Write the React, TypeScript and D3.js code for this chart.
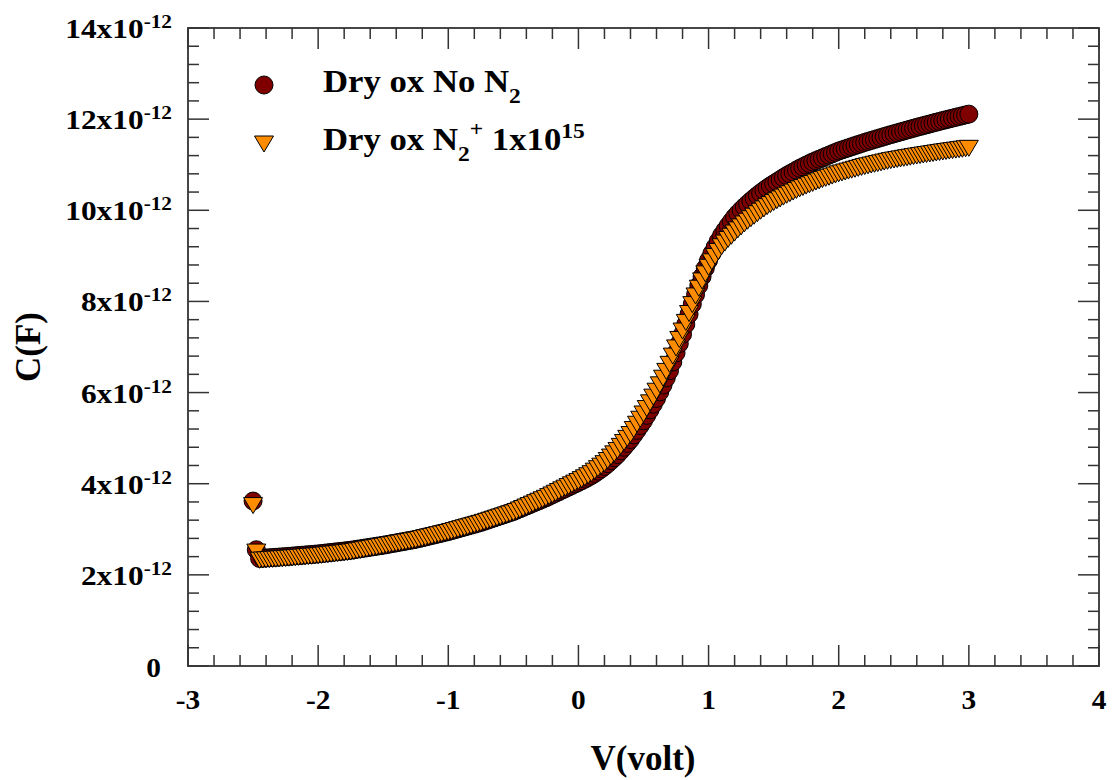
import React from 'react';
import * as d3 from 'd3';

// ---- data (C in units of 1e-12 F) ----
const V_VOLT = [
  -2.5, -2.475,
  -2.45, -2.425, -2.4, -2.375, -2.35, -2.325, -2.3, -2.275, -2.25,
  -2.225, -2.2, -2.175, -2.15, -2.125, -2.1, -2.075, -2.05, -2.025, -2,
  -1.975, -1.95, -1.925, -1.9, -1.875, -1.85, -1.825, -1.8, -1.775, -1.75,
  -1.725, -1.7, -1.675, -1.65, -1.625, -1.6, -1.575, -1.55, -1.525, -1.5,
  -1.475, -1.45, -1.425, -1.4, -1.375, -1.35, -1.325, -1.3, -1.275, -1.25,
  -1.225, -1.2, -1.175, -1.15, -1.125, -1.1, -1.075, -1.05, -1.025, -1,
  -0.975, -0.95, -0.925, -0.9, -0.875, -0.85, -0.825, -0.8, -0.775, -0.75,
  -0.725, -0.7, -0.675, -0.65, -0.625, -0.6, -0.575, -0.55, -0.525, -0.5,
  -0.475, -0.45, -0.425, -0.4, -0.375, -0.35, -0.325, -0.3, -0.275, -0.25,
  -0.225, -0.2, -0.175, -0.15, -0.125, -0.1, -0.075, -0.05, -0.025, 0,
  0.025, 0.05, 0.075, 0.1, 0.125, 0.15, 0.175, 0.2, 0.225, 0.25,
  0.275, 0.3, 0.325, 0.35, 0.375, 0.4, 0.425, 0.45, 0.475, 0.5,
  0.525, 0.55, 0.575, 0.6, 0.625, 0.65, 0.675, 0.7, 0.725, 0.75,
  0.775, 0.8, 0.825, 0.85, 0.875, 0.9, 0.925, 0.95, 0.975, 1,
  1.025, 1.05, 1.075, 1.1, 1.125, 1.15, 1.175, 1.2, 1.225, 1.25,
  1.275, 1.3, 1.325, 1.35, 1.375, 1.4, 1.425, 1.45, 1.475, 1.5,
  1.525, 1.55, 1.575, 1.6, 1.625, 1.65, 1.675, 1.7, 1.725, 1.75,
  1.775, 1.8, 1.825, 1.85, 1.875, 1.9, 1.925, 1.95, 1.975, 2,
  2.025, 2.05, 2.075, 2.1, 2.125, 2.15, 2.175, 2.2, 2.225, 2.25,
  2.275, 2.3, 2.325, 2.35, 2.375, 2.4, 2.425, 2.45, 2.475, 2.5,
  2.525, 2.55, 2.575, 2.6, 2.625, 2.65, 2.675, 2.7, 2.725, 2.75,
  2.775, 2.8, 2.825, 2.85, 2.875, 2.9, 2.925, 2.95, 2.975, 3,
];

const C_DRY_NO_N2 = [
  3.62, 2.55,
  2.36, 2.365, 2.37, 2.375, 2.38, 2.385, 2.39, 2.395, 2.4,
  2.406, 2.412, 2.418, 2.424, 2.43, 2.436, 2.442, 2.448, 2.454, 2.46,
  2.468, 2.476, 2.484, 2.492, 2.5, 2.508, 2.516, 2.524, 2.532, 2.54,
  2.551, 2.562, 2.573, 2.584, 2.595, 2.606, 2.617, 2.628, 2.639, 2.65,
  2.663, 2.676, 2.689, 2.702, 2.715, 2.728, 2.741, 2.754, 2.767, 2.78,
  2.797, 2.814, 2.831, 2.848, 2.865, 2.882, 2.899, 2.916, 2.933, 2.95,
  2.97, 2.99, 3.01, 3.03, 3.05, 3.07, 3.09, 3.11, 3.13, 3.15,
  3.174, 3.198, 3.222, 3.246, 3.27, 3.294, 3.318, 3.342, 3.366, 3.39,
  3.42, 3.45, 3.48, 3.51, 3.54, 3.57, 3.6, 3.63, 3.66, 3.69,
  3.724, 3.758, 3.792, 3.826, 3.86, 3.894, 3.928, 3.962, 3.996, 4.03,
  4.065, 4.1, 4.14, 4.18, 4.225, 4.275, 4.325, 4.38, 4.44, 4.505,
  4.57, 4.64, 4.72, 4.8, 4.885, 4.97, 5.07, 5.17, 5.275, 5.38,
  5.5, 5.62, 5.745, 5.87, 6.015, 6.165, 6.32, 6.48, 6.67, 6.87,
  7.075, 7.28, 7.5, 7.72, 7.94, 8.15, 8.35, 8.545, 8.73, 8.9,
  9.05, 9.19, 9.325, 9.45, 9.555, 9.66, 9.755, 9.85, 9.93, 10.005,
  10.075, 10.14, 10.205, 10.265, 10.325, 10.38, 10.435, 10.485, 10.535, 10.58,
  10.625, 10.67, 10.715, 10.76, 10.8, 10.84, 10.88, 10.92, 10.955, 10.99,
  11.025, 11.06, 11.09, 11.12, 11.15, 11.18, 11.21, 11.24, 11.27, 11.3,
  11.324, 11.348, 11.371, 11.395, 11.419, 11.443, 11.466, 11.49, 11.511, 11.533,
  11.554, 11.575, 11.596, 11.618, 11.639, 11.66, 11.68, 11.7, 11.72, 11.74,
  11.76, 11.78, 11.8, 11.82, 11.839, 11.858, 11.876, 11.895, 11.914, 11.933,
  11.951, 11.97, 11.988, 12.005, 12.023, 12.04, 12.058, 12.075, 12.093, 12.11,
];

const C_DRY_N2_1E15 = [
  3.52, 2.5,
  2.32, 2.325, 2.33, 2.335, 2.34, 2.345, 2.35, 2.355, 2.36,
  2.366, 2.372, 2.378, 2.384, 2.39, 2.396, 2.402, 2.408, 2.414, 2.42,
  2.428, 2.436, 2.444, 2.452, 2.46, 2.468, 2.476, 2.484, 2.492, 2.5,
  2.513, 2.526, 2.539, 2.552, 2.565, 2.578, 2.591, 2.604, 2.617, 2.63,
  2.643, 2.656, 2.669, 2.682, 2.695, 2.708, 2.721, 2.734, 2.747, 2.76,
  2.777, 2.794, 2.811, 2.828, 2.845, 2.862, 2.879, 2.896, 2.913, 2.93,
  2.95, 2.97, 2.99, 3.01, 3.03, 3.05, 3.07, 3.09, 3.11, 3.13,
  3.153, 3.176, 3.199, 3.222, 3.245, 3.268, 3.291, 3.314, 3.337, 3.36,
  3.392, 3.424, 3.456, 3.488, 3.52, 3.552, 3.584, 3.616, 3.648, 3.68,
  3.717, 3.754, 3.791, 3.828, 3.865, 3.902, 3.939, 3.976, 4.013, 4.05,
  4.09, 4.13, 4.175, 4.22, 4.275, 4.33, 4.385, 4.44, 4.51, 4.585,
  4.655, 4.73, 4.82, 4.905, 4.995, 5.08, 5.19, 5.305, 5.415, 5.53,
  5.65, 5.775, 5.9, 6.03, 6.17, 6.315, 6.465, 6.62, 6.8, 6.98,
  7.165, 7.35, 7.54, 7.735, 7.93, 8.12, 8.29, 8.45, 8.605, 8.75,
  8.87, 8.985, 9.095, 9.2, 9.28, 9.36, 9.43, 9.5, 9.57, 9.635,
  9.7, 9.76, 9.815, 9.87, 9.925, 9.98, 10.03, 10.08, 10.125, 10.17,
  10.21, 10.25, 10.29, 10.33, 10.365, 10.4, 10.435, 10.47, 10.5, 10.53,
  10.56, 10.59, 10.62, 10.645, 10.675, 10.7, 10.725, 10.75, 10.775, 10.8,
  10.82, 10.84, 10.86, 10.88, 10.9, 10.92, 10.94, 10.96, 10.976, 10.993,
  11.009, 11.025, 11.041, 11.058, 11.074, 11.09, 11.103, 11.115, 11.128, 11.14,
  11.153, 11.165, 11.178, 11.19, 11.201, 11.213, 11.224, 11.235, 11.246, 11.258,
  11.269, 11.28, 11.29, 11.3, 11.31, 11.32, 11.33, 11.34, 11.35, 11.36,
];

const X_TICKS = [-3, -2, -1, 0, 1, 2, 3, 4];
const Y_TICKS = [0, 2, 4, 6, 8, 10, 12, 14];
const X_TITLE = 'V(volt)';
const Y_TITLE = 'C(F)';

// ---- layout ----
const W = 1112;
const H = 780;
const L = 188, R = 1099, T = 28, B = 666;
const FONT = '"Liberation Serif", "Times New Roman", Times, serif';
const AXIS = '#333';
const MAJOR = 21;
const MINOR = 11;
const STRETCH = 1.12;

const x = d3.scaleLinear().domain([-3, 4]).range([L, R]);
const y = d3.scaleLinear().domain([0, 14]).range([B, T]);

const xMinor: number[] = [];
for (let i = 0; i < X_TICKS.length - 1; i++) {
  for (let k = 1; k < 5; k++) xMinor.push(X_TICKS[i] + (k * (X_TICKS[i + 1] - X_TICKS[i])) / 5);
}
const yMinor: number[] = [];
for (let i = 0; i < Y_TICKS.length - 1; i++) {
  for (let k = 1; k < 5; k++) yMinor.push(Y_TICKS[i] + (k * (Y_TICKS[i + 1] - Y_TICKS[i])) / 5);
}

const TRI = 'M-9.5,-8L9.5,-8L0,8Z';
const RED = '#7f0000';
const ORANGE = '#ff8c00';

export default function App() {
  const circles = V_VOLT.map((v, i) => ({ v, c: C_DRY_NO_N2[i] }));
  const tris = V_VOLT.map((v, i) => ({ v, c: C_DRY_N2_1E15[i] }));
  return (
    <svg
      width={W}
      height={H}
      style={{ position: 'absolute', left: 0, top: 0, background: '#fff' }}
      fontFamily={FONT}
      fontWeight="bold"
    >
      <rect x={0} y={0} width={W} height={H} fill="#fff" />
      {/* ticks */}
      <g stroke={AXIS} strokeWidth={1.5}>
        {X_TICKS.map((t) => (
          <g key={'xm' + t}>
            <line x1={x(t)} x2={x(t)} y1={B} y2={B - MAJOR} />
            <line x1={x(t)} x2={x(t)} y1={T} y2={T + MAJOR} />
          </g>
        ))}
        {xMinor.map((t, i) => (
          <g key={'xn' + i}>
            <line x1={x(t)} x2={x(t)} y1={B} y2={B - MINOR} />
            <line x1={x(t)} x2={x(t)} y1={T} y2={T + MINOR} />
          </g>
        ))}
        {Y_TICKS.map((t) => (
          <g key={'ym' + t}>
            <line x1={L} x2={L + MAJOR} y1={y(t)} y2={y(t)} />
            <line x1={R} x2={R - MAJOR} y1={y(t)} y2={y(t)} />
          </g>
        ))}
        {yMinor.map((t, i) => (
          <g key={'yn' + i}>
            <line x1={L} x2={L + MINOR} y1={y(t)} y2={y(t)} />
            <line x1={R} x2={R - MINOR} y1={y(t)} y2={y(t)} />
          </g>
        ))}
      </g>
      <rect x={L} y={T} width={R - L} height={B - T} fill="none" stroke={AXIS} strokeWidth={1.8} />

      {/* data */}
      <g stroke="#000" strokeWidth={1}>
        {circles.map((d, i) => (
          <circle key={'c' + i} cx={x(d.v)} cy={y(d.c)} r={9} fill={RED} />
        ))}
        {tris.map((d, i) => (
          <path key={'t' + i} d={TRI} transform={`translate(${x(d.v)},${y(d.c)})`} fill={ORANGE} />
        ))}
      </g>

      {/* x tick labels */}
      {X_TICKS.map((t) => (
        <text
          key={'xl' + t}
          transform={`translate(${x(t)},709) scale(1.05,1)`}
          textAnchor="middle"
          fontSize={28}
          fill="#000"
        >
          {t}
        </text>
      ))}
      {/* y tick labels */}
      {Y_TICKS.map((t) =>
        t === 0 ? (
          <text
            key={'yl' + t}
            transform={`translate(161,${y(t) + 10.5}) scale(1.05,1)`}
            textAnchor="end"
            fontSize={28}
            fill="#000"
          >
            0
          </text>
        ) : (
          <text
            key={'yl' + t}
            transform={`translate(172,${y(t) + 10}) scale(${STRETCH},1)`}
            textAnchor="end"
            fontSize={28}
            fill="#000"
          >
            {t}x10
            <tspan fontSize={19} dy={-10}>-12</tspan>
          </text>
        )
      )}

      {/* axis titles */}
      <text x={643} y={770} textAnchor="middle" fontSize={35} fill="#000">{X_TITLE}</text>
      <text transform={`translate(40,347) rotate(-90)`} textAnchor="middle" fontSize={35} fill="#000">{Y_TITLE}</text>

      {/* legend */}
      <g stroke="#000" strokeWidth={1}>
        <circle cx={264} cy={85} r={9} fill={RED} />
        <path d={TRI} transform="translate(264,144)" fill={ORANGE} />
      </g>
      <text transform={`translate(323,92) scale(${STRETCH},1)`} fontSize={31} fill="#000">
        Dry ox No N
        <tspan fontSize={21} dy={11}>2</tspan>
      </text>
      <text transform={`translate(323,150) scale(${STRETCH},1)`} fontSize={31} fill="#000">
        Dry ox N
        <tspan fontSize={21} dy={11}>2</tspan>
        <tspan fontSize={21} dy={-25}>+</tspan>
        <tspan fontSize={31} dy={14}> 1x10</tspan>
        <tspan fontSize={21} dy={-12}>15</tspan>
      </text>
    </svg>
  );
}
